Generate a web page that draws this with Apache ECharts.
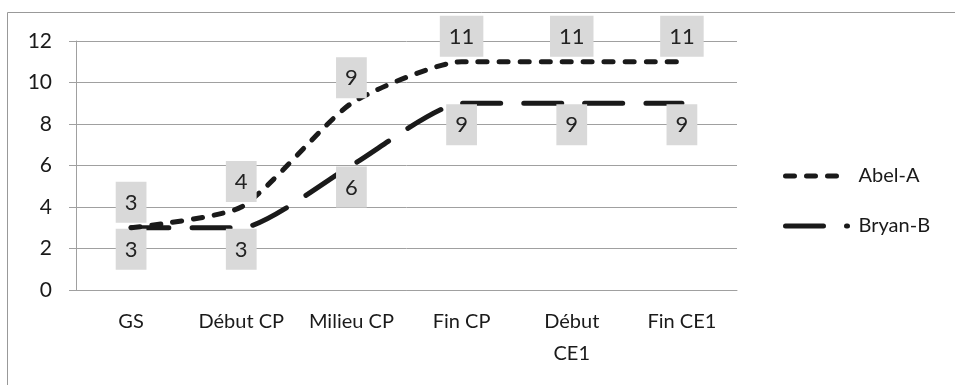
<!DOCTYPE html>
<html lang="fr">
<head>
    <meta charset="UTF-8">
    <title>Abel / Bryan</title>
</head>
<style>
    body { margin: 0; }
    #main { width: 955px; height: 385px; }
</style>
<body>
    <div id="main"></div>
    <script src="https://cdn.jsdelivr.net/npm/echarts@6/dist/echarts.min.js"></script>
    <script>
        const categories = ['GS', 'Début CP', 'Milieu CP', 'Fin CP', 'Début CE1', 'Fin CE1']
        const abel = [3, 4, 9, 11, 11, 11]
        const bryan = [3, 3, 6, 9, 9, 9]
        const yTicks = { min: 0, max: 12, step: 2 }

        const font = 'Lato'
        const ink = '#1a1a1a'
        const grey = '#a0a0a0'

        let chart = echarts.init(document.getElementById('main'))

        const boxLabel = (pos, dist) => ({
            show: true,
            position: pos,
            distance: dist,
            fontFamily: font,
            fontSize: 22,
            color: '#222',
            backgroundColor: '#d9d9d9',
            padding: [10, 9, 9, 9]
        })

        let option = {
            animation: false,
            textStyle: { fontFamily: font },
            graphic: [{
                type: 'rect',
                shape: { x: 7.5, y: 12.5, width: 960, height: 400 },
                style: { fill: 'none', stroke: '#999', lineWidth: 1 },
                silent: true
            }],
            grid: { left: 76, right: 218, top: 41, bottom: 95 },
            legend: {
                orient: 'vertical',
                left: 778,
                top: 161,
                itemWidth: 62,
                itemHeight: 14,
                itemGap: 30,
                itemStyle: { opacity: 0 },
                lineStyle: { width: 5 },
                textStyle: { fontFamily: font, fontSize: 20, color: ink, padding: [0, 0, 0, 6] },
                data: ['Abel-A', 'Bryan-B']
            },
            xAxis: {
                type: 'category',
                data: categories,
                axisLine: { lineStyle: { color: grey } },
                axisTick: { length: 7, lineStyle: { color: grey } },
                axisLabel: {
                    interval: 0,
                    color: ink,
                    fontFamily: font,
                    fontSize: 20,
                    margin: 16,
                    lineHeight: 32,
                    formatter: v => v === 'Début CE1' ? 'Début\nCE1' : v
                }
            },
            yAxis: {
                type: 'value',
                min: yTicks.min,
                max: yTicks.max,
                interval: yTicks.step,
                axisLine: { show: true, lineStyle: { color: grey } },
                axisTick: { show: true, length: 7, lineStyle: { color: grey } },
                splitLine: { lineStyle: { color: grey } },
                axisLabel: { color: ink, fontFamily: font, fontSize: 21, margin: 24 }
            },
            series: [
                {
                    name: 'Abel-A',
                    type: 'line',
                    data: abel,
                    smooth: 0.2,
                    symbol: 'circle',
                    symbolSize: 0.01,
                    itemStyle: { color: ink },
                    lineStyle: { color: ink, width: 5, type: [9, 12], cap: 'round' },
                    label: boxLabel('top', 5),
                    z: 3
                },
                {
                    name: 'Bryan-B',
                    type: 'line',
                    data: bryan,
                    smooth: 0.2,
                    symbol: 'circle',
                    symbolSize: 0.01,
                    itemStyle: { color: ink },
                    lineStyle: { color: ink, width: 5, type: [38, 23], cap: 'round' },
                    label: boxLabel('bottom', 1),
                    z: 2
                }
            ]
        }
        chart.setOption(option)
    </script>
</body>
</html>
